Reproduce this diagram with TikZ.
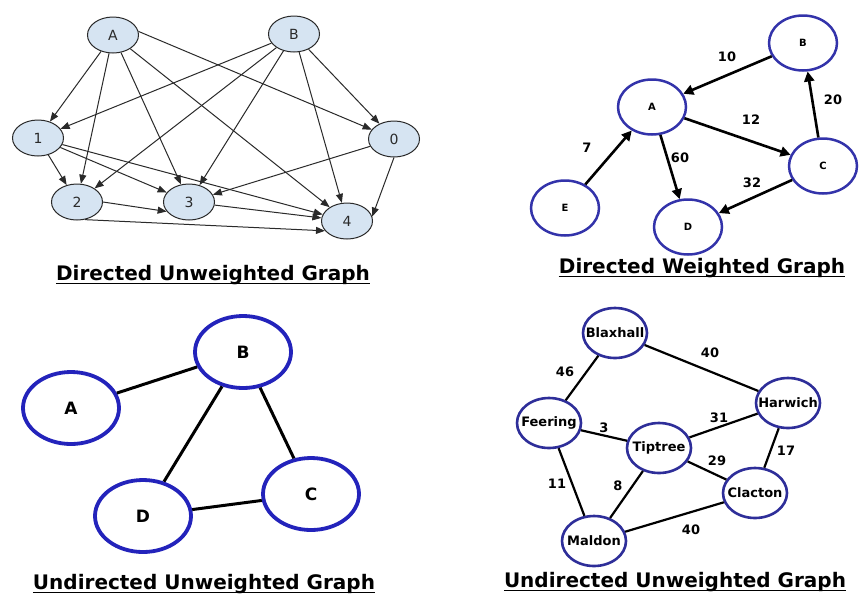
\documentclass[tikz,border=0pt]{standalone}
\usepackage{fontspec}
\setmainfont{DejaVu Sans}
\usetikzlibrary{shapes.geometric,arrows.meta}

\definecolor{nodefill}{HTML}{D6E4F2}
\definecolor{darkline}{HTML}{2A2A2A}
\definecolor{ringA}{HTML}{3333AA}
\definecolor{ringB}{HTML}{2323BB}
\definecolor{ringC}{HTML}{2E2E99}

% town names may run over the ring without widening it
\newcommand{\townname}[1]{\makebox[0pt]{#1}}

\tikzset{
  % light ellipses with thin arrows
  lightnode/.style={ellipse, draw=darkline, fill=nodefill, line width=1pt,
    minimum width=51pt, minimum height=36pt, inner sep=0pt,
    text=darkline, font=\fontsize{14}{16}\selectfont},
  thinarrow/.style={draw=darkline, line width=1pt,
    -{Triangle[length=9pt,width=7pt]}},
  % blue rings
  ringsmall/.style={ellipse, draw=ringA, fill=white, line width=2.5pt,
    minimum width=68pt, minimum height=55pt, inner sep=0pt,
    font=\fontsize{10}{12}\selectfont\bfseries},
  ringlarge/.style={ellipse, draw=ringB, fill=white, line width=3.8pt,
    minimum width=96pt, minimum height=72pt, inner sep=0pt,
    font=\fontsize{17}{20}\selectfont\bfseries},
  ringtown/.style={ellipse, draw=ringC, fill=white, line width=2.6pt,
    minimum width=64pt, minimum height=50pt, inner sep=0pt,
    font=\fontsize{13}{15}\selectfont\bfseries},
  thickarrow/.style={draw=black, line width=2.6pt,
    -{Triangle[length=10pt,width=10pt]}},
  thickedge/.style={draw=black, line width=3pt},
  townedge/.style={draw=black, line width=2.2pt},
  weight/.style={font=\fontsize{13}{15}\selectfont\bfseries, inner sep=0pt},
  caption/.style={font=\fontsize{20}{24}\selectfont\bfseries, inner sep=0pt, anchor=base},
  uline/.style={draw=black, line width=1.8pt}
}

\begin{document}
\begin{tikzpicture}[x=1pt,y=-1pt]
\useasboundingbox (0,0) rectangle (861,595);
\fill[white] (0,0) rectangle (861,595);

% ---------- directed, unweighted ----------
\node[lightnode] (tA) at (113,35) {A};
\node[lightnode] (tB) at (294,34) {B};
\node[lightnode] (t1) at (38,138) {1};
\node[lightnode] (t0) at (394,139) {0};
\node[lightnode] (t2) at (77,202) {2};
\node[lightnode] (t3) at (189,202) {3};
\node[lightnode] (t4) at (347,221) {4};

\draw[thinarrow] (tA) -- (t1);
\draw[thinarrow] (tA) -- (t2);
\draw[thinarrow] (tA) -- (t3);
\draw[thinarrow] (tA) -- (t4);
\draw[thinarrow] (tA.8) -- (t0);
\draw[thinarrow] (tB) -- (t1);
\draw[thinarrow] (tB) -- (t2);
\draw[thinarrow] (tB) -- (t3);
\draw[thinarrow] (tB) -- (t4);
\draw[thinarrow] (tB) -- (t0);
\draw[thinarrow] (t1) -- (t2);
\draw[thinarrow] (t1) -- (t3);
\draw[thinarrow] (t1) -- (t4);
\draw[thinarrow] (t0) -- (t3);
\draw[thinarrow] (t0.south) -- (t4.10);
\draw[thinarrow] (t2.east) -- (t3.203);
\draw[thinarrow] (t2.-66) -- (t4.204);
\draw[thinarrow] (t3) -- (t4);

\node[caption] (cap1) at (213,280) {Directed Unweighted Graph};
\draw[uline] ([yshift=-3.5pt]cap1.base west) -- ([yshift=-3.5pt]cap1.base east);

% ---------- directed, weighted ----------
\node[ringsmall] (wB) at (803,43) {B};
\node[ringsmall] (wA) at (652,107) {A};
\node[ringsmall] (wC) at (823,166) {C};
\node[ringsmall] (wE) at (565,208) {E};
\node[ringsmall] (wD) at (688,227) {D};

\draw[thickarrow] (wB) -- (wA);
\draw[thickarrow] (wA) -- (wC);
\draw[thickarrow] (wC) -- (wB);
\draw[thickarrow] (wE) -- (wA);
\draw[thickarrow] (wA) -- (wD);
\draw[thickarrow] (wC) -- (wD);

\node[weight] (l10) at (727,57) {10};
\node[weight] (l12) at (751,120) {12};
\node[weight] (l20) at (833,100) {20};
\node[weight] (l7) at (587,148) {7};
\node[weight] (l60) at (680,158) {60};
\node[weight] (l32) at (752,183) {32};

\node[caption] (cap2) at (702,273) {Directed Weighted Graph};
\draw[uline] ([yshift=-3.5pt]cap2.base west) -- ([yshift=-3.5pt]cap2.base east);

% ---------- undirected, unweighted ----------
\node[ringlarge] (uB) at (243,352) {B};
\node[ringlarge] (uA) at (71,408) {A};
\node[ringlarge] (uD) at (143,516) {D};
\node[ringlarge] (uC) at (311,494) {C};

\draw[thickedge] (uA) -- (uB);
\draw[thickedge] (uB) -- (uD);
\draw[thickedge] (uB) -- (uC);
\draw[thickedge] (uD) -- (uC);

\node[caption] (cap3) at (204,589) {Undirected Unweighted Graph};
\draw[uline] ([yshift=-3.5pt]cap3.base west) -- ([yshift=-3.5pt]cap3.base east);

% ---------- towns with distances ----------
\node[ringtown] (bx) at (615,333) {\townname{Blaxhall}};
\node[ringtown] (hw) at (788,403) {\townname{Harwich}};
\node[ringtown] (fe) at (549,423) {\townname{Feering}};
\node[ringtown] (tp) at (659,448) {\townname{Tiptree}};
\node[ringtown] (cl) at (755,493) {\townname{Clacton}};
\node[ringtown] (md) at (594,541) {\townname{Maldon}};

\draw[townedge] (bx) -- (hw);
\draw[townedge] (bx) -- (fe);
\draw[townedge] (fe) -- (tp);
\draw[townedge] (tp) -- (hw);
\draw[townedge] (hw) -- (cl);
\draw[townedge] (tp) -- (cl);
\draw[townedge] (fe) -- (md);
\draw[townedge] (tp) -- (md);
\draw[townedge] (md) -- (cl);

\node[weight] (d1) at (710,353) {40};
\node[weight] (d2) at (565,372) {46};
\node[weight] (d3) at (604,428) {3};
\node[weight] (d4) at (719,418) {31};
\node[weight] (d5) at (786,451) {17};
\node[weight] (d6) at (717,461) {29};
\node[weight] (d7) at (557,484) {11};
\node[weight] (d8) at (618,486) {8};
\node[weight] (d9) at (691,530) {40};

\node[caption] (cap4) at (675,587) {Undirected Unweighted Graph};
\draw[uline] ([yshift=-3.5pt]cap4.base west) -- ([yshift=-3.5pt]cap4.base east);
\end{tikzpicture}
\end{document}
